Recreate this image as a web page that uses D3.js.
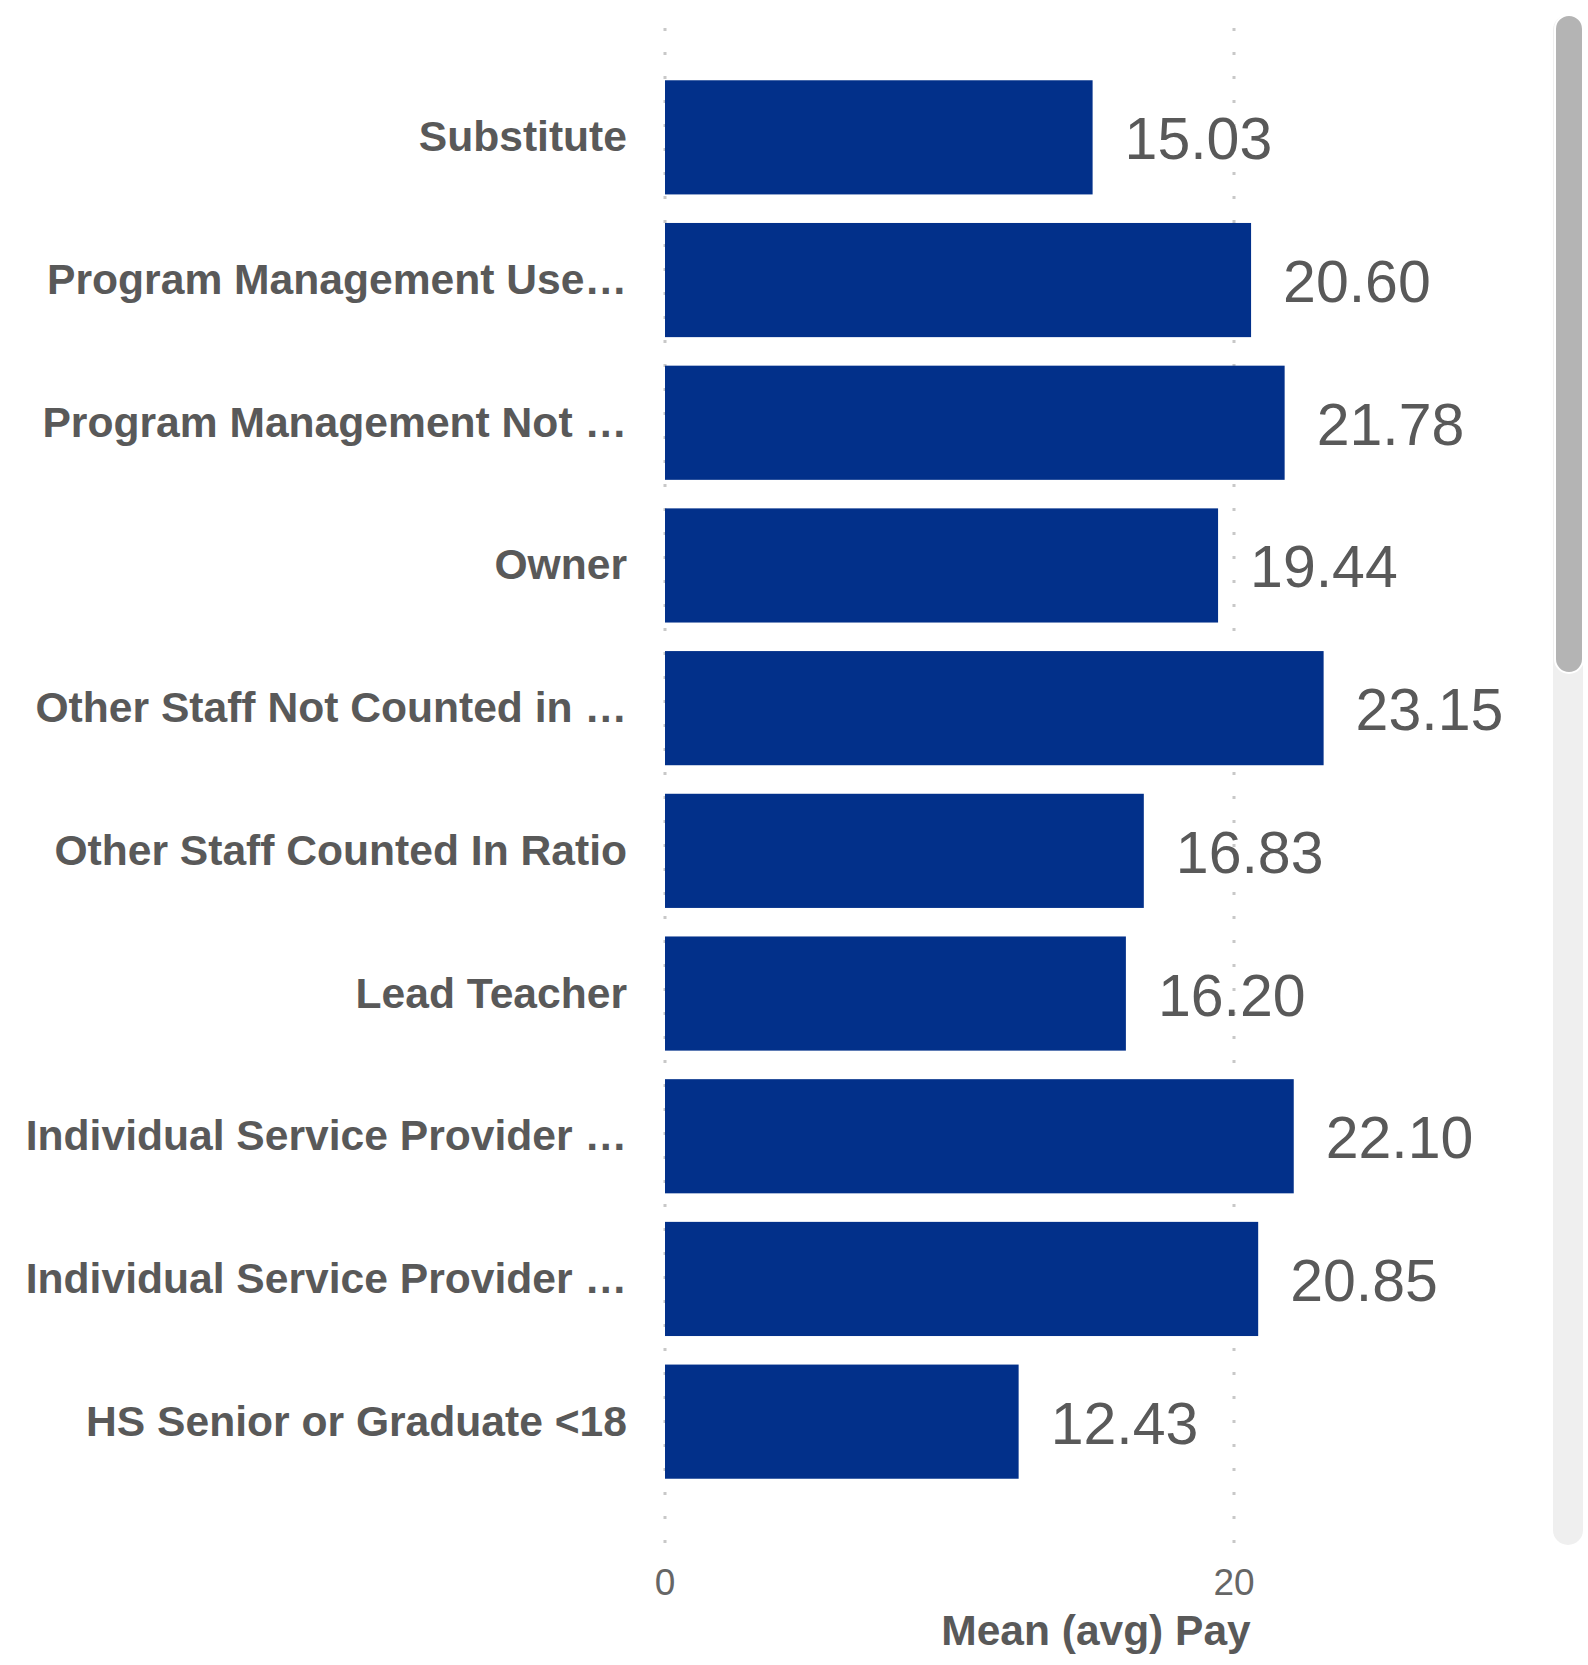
<!DOCTYPE html>
<html>
<head>
<meta charset="utf-8">
<script src="https://cdn.jsdelivr.net/npm/d3@7/dist/d3.min.js"></script>
<style>
  html, body { margin: 0; padding: 0; background: #ffffff; }
  svg { display: block; }
  text { font-family: "Liberation Sans", Arial, Helvetica, sans-serif; }
</style>
</head>
<body>
<svg id="chart" width="1588" height="1665"></svg>
<script>
const categories = [
  "Substitute",
  "Program Management Use\u2026",
  "Program Management Not \u2026",
  "Owner",
  "Other Staff Not Counted in \u2026",
  "Other Staff Counted In Ratio",
  "Lead Teacher",
  "Individual Service Provider \u2026",
  "Individual Service Provider \u2026 ",
  "HS Senior or Graduate <18"
];
const meanPay = [15.03, 20.60, 21.78, 19.44, 23.15, 16.83, 16.20, 22.10, 20.85, 12.43];
const xTicks = [0, 20];
const axisTitle = "Mean (avg) Pay";

const svg = d3.select("#chart");
const textColor = "#595959";
const barColor = "#02308a";

const x = d3.scaleLinear().domain([0, 20]).range([665, 1234]);
const y = d3.scaleBand().domain(categories).range([66, 1493]).paddingInner(0.2).paddingOuter(0.1);

// scrollbar (track + thumb)
svg.append("rect").attr("x", 1553).attr("y", 15).attr("width", 30).attr("height", 1530)
  .attr("rx", 15).attr("fill", "#efefef");
svg.append("rect").attr("x", 1555).attr("y", 15).attr("width", 28).attr("height", 658)
  .attr("rx", 14).attr("fill", "#b4b4b4").attr("stroke", "#ffffff").attr("stroke-width", 2);

// gridlines
svg.append("g").selectAll("line").data(xTicks).join("line")
  .attr("x1", d => x(d)).attr("x2", d => x(d))
  .attr("y1", 28).attr("y2", 1546)
  .attr("stroke", "#c8c8c8").attr("stroke-width", 3)
  .attr("stroke-dasharray", "3,21");

// bars
const data = categories.map((c, i) => ({ cat: c, v: meanPay[i] }));
svg.append("g").selectAll("rect").data(data).join("rect")
  .attr("x", x(0))
  .attr("y", d => y(d.cat))
  .attr("width", d => x(d.v) - x(0))
  .attr("height", y.bandwidth())
  .attr("fill", barColor);

// value labels
svg.append("g").selectAll("text").data(data).join("text")
  .attr("x", d => x(d.v) + 32)
  .attr("y", d => y(d.cat) + y.bandwidth() / 2 + 22)
  .attr("font-size", 59)
  .attr("fill", textColor)
  .text(d => d.v.toFixed(2));

// category labels
svg.append("g").selectAll("text").data(data).join("text")
  .attr("x", 627)
  .attr("y", d => y(d.cat) + y.bandwidth() / 2 + 14)
  .attr("text-anchor", "end")
  .attr("font-size", 42.6)
  .attr("font-weight", "bold")
  .attr("fill", textColor)
  .text(d => d.cat.trim());

// x tick labels
svg.append("g").selectAll("text").data(xTicks).join("text")
  .attr("x", d => x(d))
  .attr("y", 1595)
  .attr("text-anchor", "middle")
  .attr("font-size", 37)
  .attr("fill", "#666666")
  .text(d => d);

// axis title
svg.append("text")
  .attr("x", 1096).attr("y", 1645)
  .attr("text-anchor", "middle")
  .attr("font-size", 42.5)
  .attr("font-weight", "bold")
  .attr("fill", textColor)
  .text(axisTitle);
</script>
</body>
</html>
